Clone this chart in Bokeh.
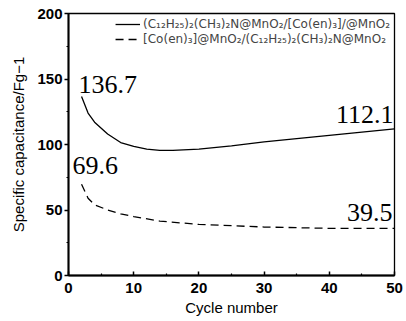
from bokeh.plotting import figure
from bokeh.models import Range1d, Legend, LegendItem, FixedTicker, Label
from bokeh.embed import file_html
from bokeh.resources import INLINE

cycles_a = [2, 3, 4, 6, 8, 10, 12, 14, 16, 20, 25, 30, 35, 40, 45, 50]
cap_a = [136.7, 124, 117, 108, 101.5, 98.5, 96.5, 95.5, 95.5, 96.5, 99, 102, 104.5, 107, 109.5, 112]
cycles_b = [2, 3, 4, 6, 8, 10, 14, 20, 25, 30, 35, 40, 45, 50]
cap_b = [69.6, 59, 54, 50, 47, 45, 41.5, 39, 38, 37, 36.5, 36, 36, 36]
name_a = "(C₁₂H₂₅)₂(CH₃)₂N@MnO₂/[Co(en)₃]/@MnO₂"
name_b = "[Co(en)₃]@MnO₂/(C₁₂H₂₅)₂(CH₃)₂N@MnO₂"
x_ticks = [0, 10, 20, 30, 40, 50]
y_ticks = [0, 50, 100, 150, 200]
annotations = [(2, 136.7, "136.7"), (50, 112.1, "112.1"), (2, 69.6, "69.6"), (50, 39.5, "39.5")]

p = figure(width=406, height=321, output_backend="svg", toolbar_location=None,
           x_range=Range1d(0, 50), y_range=Range1d(0, 200),
           min_border_left=68, min_border_right=12, min_border_top=13, min_border_bottom=46)
p.grid.visible = False
p.outline_line_color = "black"
p.outline_line_width = 1.3
p.background_fill_color = "white"

r1 = p.line(cycles_a, cap_a, line_color="black", line_width=1.3)
r2 = p.line(cycles_b, cap_b, line_color="black", line_width=1.3, line_dash="8 5")

for ax in (p.xaxis[0], p.yaxis[0]):
    ax.axis_line_width = 2
    ax.major_label_text_font = "Liberation Sans"
    ax.major_label_text_font_style = "bold"
    ax.major_label_text_font_size = "15px"
    ax.major_label_text_color = "black"
    ax.axis_label_text_font = "Liberation Sans"
    ax.axis_label_text_font_style = "normal"
    ax.axis_label_text_font_size = "15px"
    ax.axis_label_text_color = "black"
    ax.major_tick_line_width = 1.5
    ax.minor_tick_line_width = 1.2

p.xaxis.ticker = FixedTicker(ticks=x_ticks, minor_ticks=[5, 15, 25, 35, 45])
p.xaxis.major_tick_in = 4
p.xaxis.major_tick_out = 0
p.xaxis.minor_tick_in = 2
p.xaxis.minor_tick_out = 0
p.xaxis.axis_label = "Cycle number"
p.xaxis.major_label_standoff = 7
p.xaxis.axis_label_standoff = 3

p.yaxis.ticker = FixedTicker(ticks=y_ticks, minor_ticks=[25, 75, 125, 175])
p.yaxis.major_tick_in = 0
p.yaxis.major_tick_out = 4
p.yaxis.minor_tick_in = 0
p.yaxis.minor_tick_out = 2
p.yaxis.axis_label = "Specific capacitance/Fg−1"
p.yaxis.major_label_standoff = 2
p.yaxis.axis_label_standoff = 7

legend = Legend(items=[LegendItem(label=name_a, renderers=[r1]),
                       LegendItem(label=name_b, renderers=[r2])],
                location="top_right", border_line_alpha=0, background_fill_alpha=0,
                label_text_font="DejaVu Sans", label_text_font_size="12px",
                glyph_width=25, glyph_height=14, label_height=14, spacing=1,
                padding=1, margin=3, label_standoff=3)
p.add_layout(legend)

offsets = [(-3, 3, "left"), (-1, 6, "right"), (-9, 10, "left"), (-2, 3, "right")]
for (x, y, t), (dx, dy, al) in zip(annotations, offsets):
    p.add_layout(Label(x=x, y=y, text=t, x_offset=dx, y_offset=dy,
                       text_font="Liberation Serif", text_font_size="26px",
                       text_align=al, text_baseline="bottom", text_color="black"))

open("out.html", "w").write(file_html(p, INLINE))
